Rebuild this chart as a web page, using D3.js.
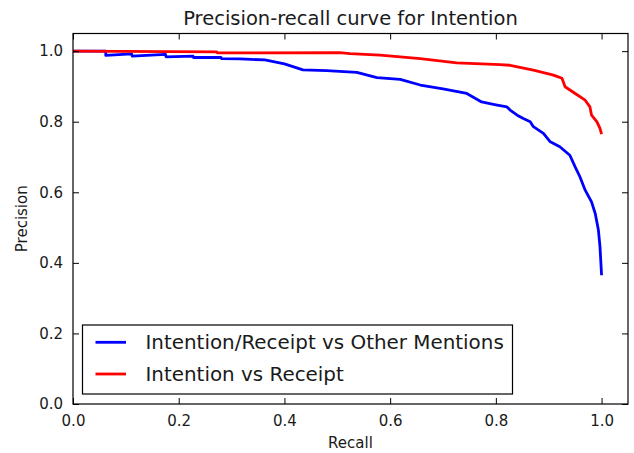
<!DOCTYPE html>
<html>
<head>
<meta charset="utf-8">
<script src="https://cdn.jsdelivr.net/npm/d3@7"></script>
<style>
	body { margin: 0; background: #fff; }
	text { font-family: "DejaVu Sans", sans-serif; fill: #1a1a1a; }
</style>
</head>
<body>
<div id="chart"></div>
<script>
/* global d3 */
var seriesNames = ["Intention/Receipt vs Other Mentions", "Intention vs Receipt"];
var seriesColors = ["#0000ff", "#ff0000"];

var blueRecall = [0, 0.062, 0.062, 0.111, 0.112, 0.175, 0.176, 0.227, 0.228, 0.28, 0.281, 0.316, 0.363,
	0.40, 0.435, 0.48, 0.537, 0.575, 0.619, 0.657, 0.70, 0.745, 0.773, 0.800, 0.821, 0.827, 0.843, 0.852, 0.865,
	0.871, 0.890, 0.903, 0.921, 0.940, 0.950, 0.959, 0.969, 0.981, 0.988, 0.994, 0.997, 1.0];
var bluePrecision = [1.0, 1.0, 0.988, 0.992, 0.986, 0.991, 0.984, 0.986, 0.982, 0.982, 0.979, 0.978, 0.975,
	0.964, 0.947, 0.945, 0.940, 0.925, 0.920, 0.904, 0.893, 0.880, 0.856, 0.848, 0.842, 0.833, 0.816, 0.809, 0.800,
	0.786, 0.767, 0.743, 0.729, 0.705, 0.672, 0.644, 0.606, 0.573, 0.540, 0.493, 0.446, 0.365];

var redRecall = [0, 0.272, 0.273, 0.505, 0.524, 0.581, 0.619, 0.657, 0.726, 0.808, 0.827, 0.871, 0.909,
	0.925, 0.931, 0.950, 0.969, 0.978, 0.981, 0.991, 0.997, 1.0];
var redPrecision = [1.0, 0.998, 0.995, 0.996, 0.993, 0.989, 0.984, 0.979, 0.967, 0.962, 0.960, 0.946, 0.932,
	0.923, 0.899, 0.880, 0.861, 0.842, 0.819, 0.800, 0.781, 0.765];

var xTicks = [0.0, 0.2, 0.4, 0.6, 0.8, 1.0];
var yTicks = [0.0, 0.2, 0.4, 0.6, 0.8, 1.0];

(function(){
	'use strict';

	var width = 634,
		height = 453,
		margin = {top: 33.5, right: 6, bottom: 49, left: 73},
		plotW = width - margin.left - margin.right,
		plotH = height - margin.top - margin.bottom,
		tickLen = 6;

	var svg = d3.select("#chart")
		.append("svg")
		.attr("width", width)
		.attr("height", height);

	var x = d3.scaleLinear().domain([0, 1.05]).range([0, plotW]);
	var y = d3.scaleLinear().domain([0, 1.05]).range([plotH, 0]);

	var g = svg.append("g")
		.attr("transform", "translate(" + margin.left + "," + margin.top + ")");

	// curves
	var series = [
		{name: seriesNames[0], color: seriesColors[0], xs: blueRecall, ys: bluePrecision},
		{name: seriesNames[1], color: seriesColors[1], xs: redRecall, ys: redPrecision}
	];
	var line = d3.line()
		.x(function(d){ return x(d[0]); })
		.y(function(d){ return y(d[1]); });

	g.selectAll("path.curve")
		.data(series)
		.enter().append("path")
		.attr("class", "curve")
		.attr("fill", "none")
		.attr("stroke", function(d){ return d.color; })
		.attr("stroke-width", 2.8)
		.attr("stroke-linejoin", "round")
		.attr("d", function(d){ return line(d3.zip(d.xs, d.ys)); });

	// axes: ticks inward on all four sides
	var fmt = d3.format(".1f");
	var bottomAx = d3.axisBottom(x).tickValues(xTicks).tickFormat(fmt).tickSizeInner(-tickLen).tickSizeOuter(0).tickPadding(11);
	var topAx = d3.axisTop(x).tickValues(xTicks).tickFormat("").tickSizeInner(-tickLen).tickSizeOuter(0);
	var leftAx = d3.axisLeft(y).tickValues(yTicks).tickFormat(fmt).tickSizeInner(-tickLen).tickSizeOuter(0).tickPadding(10);
	var rightAx = d3.axisRight(y).tickValues(yTicks).tickFormat("").tickSizeInner(-tickLen).tickSizeOuter(0);

	var axes = [
		g.append("g").attr("transform", "translate(0," + plotH + ")").call(bottomAx),
		g.append("g").call(topAx),
		g.append("g").call(leftAx),
		g.append("g").attr("transform", "translate(" + plotW + ",0)").call(rightAx)
	];
	axes.forEach(function(a){
		a.select(".domain").remove();
		a.selectAll("line").attr("stroke", "#000").attr("stroke-width", 1);
		a.selectAll("text").attr("font-size", 15).attr("fill", "#1a1a1a").style("font-family", "DejaVu Sans");
	});

	g.append("rect")
		.attr("width", plotW)
		.attr("height", plotH)
		.attr("fill", "none")
		.attr("stroke", "#000")
		.attr("stroke-width", 1.2);

	// legend
	var lg = g.append("g")
		.attr("transform", "translate(" + (82.5 - margin.left) + "," + (325 - margin.top) + ")");
	lg.append("rect")
		.attr("width", 430)
		.attr("height", 69)
		.attr("fill", "#fff")
		.attr("stroke", "#000")
		.attr("stroke-width", 1.2);
	var item = lg.selectAll("g.item")
		.data(series)
		.enter().append("g")
		.attr("class", "item")
		.attr("transform", function(d, i){ return "translate(0," + (17.3 + i * 31.7) + ")"; });
	item.append("line")
		.attr("x1", 13).attr("x2", 43.5)
		.attr("stroke", function(d){ return d.color; })
		.attr("stroke-width", 2.8);
	item.append("text")
		.attr("x", 63)
		.attr("dy", "0.36em")
		.attr("font-size", 19.9)
		.text(function(d){ return d.name; });

	// title and axis labels
	svg.append("text")
		.attr("x", margin.left + plotW / 2)
		.attr("y", 25)
		.attr("text-anchor", "middle")
		.attr("font-size", 19.5)
		.text("Precision-recall curve for Intention");
	svg.append("text")
		.attr("x", margin.left + plotW / 2)
		.attr("y", 448)
		.attr("text-anchor", "middle")
		.attr("font-size", 15)
		.text("Recall");
	svg.append("text")
		.attr("transform", "translate(27," + (margin.top + plotH / 2) + ") rotate(-90)")
		.attr("text-anchor", "middle")
		.attr("font-size", 15)
		.text("Precision");
})();
</script>
</body>
</html>
